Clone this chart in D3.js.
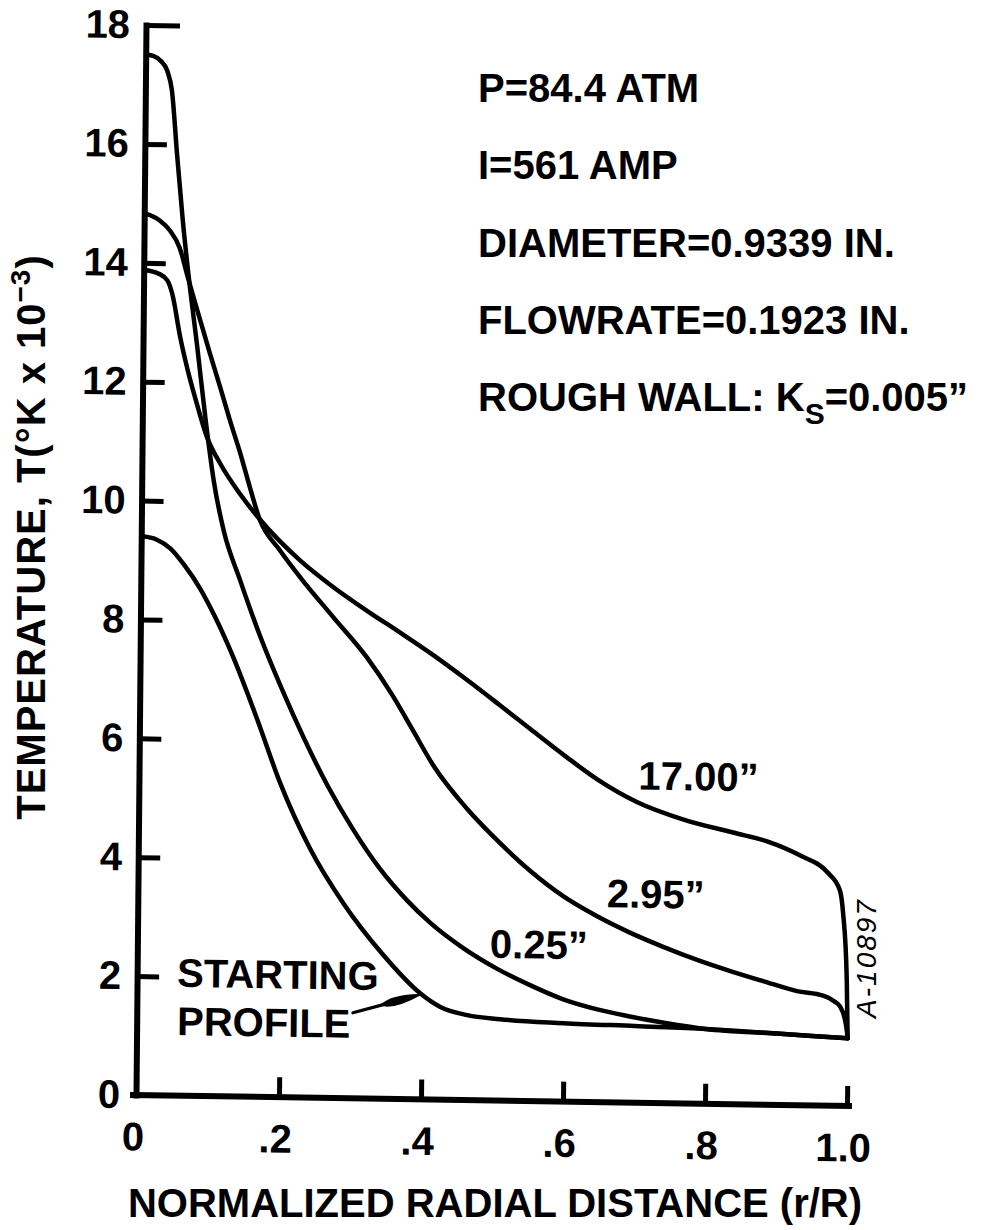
<!DOCTYPE html>
<html><head><meta charset="utf-8">
<script src="https://cdn.jsdelivr.net/npm/d3@7"></script>
<style>
html,body{margin:0;padding:0;background:#fff;}
svg text{font-family:"Liberation Sans",Arial,Helvetica,sans-serif;font-weight:bold;fill:#000;font-size:40px;}
svg text.id-mark{font-weight:normal;font-style:italic;font-size:28px;letter-spacing:2px;}
</style></head><body>
<svg id="chart" width="1003" height="1230"></svg>
<script>
// Axis ticks
const radialTicks = [0, 0.2, 0.4, 0.6, 0.8, 1.0];
const radialTickLabels = ["0", ".2", ".4", ".6", ".8", "1.0"];
const tempTicks = [0, 2, 4, 6, 8, 10, 12, 14, 16, 18];
const tempTickLabels = ["0", "2", "4", "6", "8", "10", "12", "14", "16", "18"];

// Starting profile
const startR = [0, 0.02, 0.04, 0.06, 0.082, 0.105, 0.129, 0.164, 0.197, 0.24, 0.288, 0.345, 0.397, 0.426, 0.464, 0.51, 0.6, 0.7, 0.8, 0.9, 1.0];
const startT = [9.4, 9.35, 9.2, 8.92, 8.54, 8.03, 7.41, 6.36, 5.3, 4.2, 3.28, 2.42, 1.79, 1.56, 1.43, 1.37, 1.32, 1.29, 1.26, 1.2, 1.14];

// Profile at 0.25 in.
const r025 = [0, 0.01, 0.02, 0.029, 0.036, 0.044, 0.053, 0.061, 0.075, 0.088, 0.1, 0.115, 0.138, 0.167, 0.2, 0.229, 0.264, 0.301, 0.339, 0.378, 0.41, 0.457, 0.505, 0.552, 0.599, 0.647, 0.693, 0.743, 0.8, 0.9, 1.0];
const t025 = [17.5, 17.48, 17.4, 17.24, 16.9, 15.84, 14.72, 13.88, 12.6, 11.35, 10.35, 9.5, 8.7, 7.76, 6.83, 6.08, 5.26, 4.52, 3.87, 3.34, 2.98, 2.56, 2.22, 1.95, 1.72, 1.56, 1.45, 1.35, 1.26, 1.2, 1.14];

// Profile at 2.95 in.
const r295 = [0, 0.02, 0.035, 0.049, 0.061, 0.079, 0.093, 0.108, 0.122, 0.137, 0.151, 0.165, 0.194, 0.223, 0.27, 0.318, 0.355, 0.384, 0.413, 0.461, 0.508, 0.551, 0.597, 0.645, 0.692, 0.739, 0.787, 0.834, 0.88, 0.928, 0.965, 0.979, 0.989, 0.995, 0.999, 1.0];
const t295 = [14.83, 14.72, 14.55, 14.26, 13.76, 13.04, 12.49, 11.92, 11.37, 10.82, 10.25, 9.72, 9.2, 8.75, 8.09, 7.42, 6.78, 6.2, 5.62, 4.9, 4.33, 3.87, 3.46, 3.13, 2.86, 2.63, 2.42, 2.24, 2.08, 1.92, 1.85, 1.77, 1.67, 1.5, 1.25, 1.14];

// Profile at 17.00 in.
const r1700 = [0, 0.02, 0.032, 0.039, 0.051, 0.062, 0.075, 0.09, 0.109, 0.137, 0.165, 0.223, 0.269, 0.318, 0.364, 0.411, 0.459, 0.506, 0.55, 0.6, 0.644, 0.7, 0.765, 0.836, 0.884, 0.931, 0.969, 0.987, 0.992, 0.998, 1.0];
const t1700 = [13.88, 13.82, 13.71, 13.49, 12.75, 12.2, 11.65, 11.08, 10.64, 10.14, 9.72, 9.03, 8.6, 8.2, 7.85, 7.48, 7.07, 6.65, 6.25, 5.8, 5.43, 5.06, 4.78, 4.57, 4.43, 4.2, 3.93, 3.63, 3.24, 2.12, 1.14];

const W = 1003, H = 1230;
const svg = d3.select("#chart");
svg.append("rect").attr("width", W).attr("height", H).attr("fill", "#fff");

const x = d3.scaleLinear().domain([0, 1]).range([137, 847]);
const y = d3.scaleLinear().domain([0, 18]).range([1095, 25]);

// the inked frame leans slightly: a small shear of the whole plot
const plot = svg.append("g").attr("transform", "matrix(1,0.01545,-0.00934,1,10.23,-2.09)");

// Y axis, ticks pointing inward
const yAxis = d3.axisLeft(y).tickValues(tempTicks)
  .tickFormat((d, i) => tempTickLabels[i])
  .tickSizeInner(-22).tickSizeOuter(0).tickPadding(16);
const gy = plot.append("g").attr("transform", `translate(${x(0) - 1},0)`).call(yAxis);
gy.attr("font-size", null).attr("font-family", null);
gy.select(".domain").attr("stroke", "#000").attr("stroke-width", 6).attr("stroke-linecap", "square");
gy.selectAll(".tick line").attr("stroke", "#000").attr("stroke-width", 5);
gy.selectAll(".tick").filter(d => d === 18).select("line").attr("x2", 34);
gy.selectAll(".tick").filter(d => d === 0).select("line").remove();
gy.selectAll(".tick text").attr("fill", "#000");

// X axis, ticks pointing inward
const xAxis = d3.axisBottom(x).tickValues(radialTicks)
  .tickFormat((d, i) => radialTickLabels[i])
  .tickSizeInner(-20).tickSizeOuter(0).tickPadding(27);
const gx = plot.append("g").attr("transform", `translate(0,${y(0)})`).call(xAxis);
gx.attr("font-size", null).attr("font-family", null);
gx.select(".domain").attr("d", `M${x(0) - 4},0H${x(1) + 2}`)
  .attr("stroke", "#000").attr("stroke-width", 6).attr("stroke-linecap", "square");
gx.selectAll(".tick line").attr("stroke", "#000").attr("stroke-width", 5);
gx.selectAll(".tick").filter(d => d === 0).select("line").remove();
gx.selectAll(".tick text").attr("fill", "#000").attr("dx", -4);

// Temperature profiles
const series = [
  {r: startR, t: startT},
  {r: r025, t: t025},
  {r: r295, t: t295},
  {r: r1700, t: t1700}
];
const line = d3.line().x(d => x(d[0])).y(d => y(d[1])).curve(d3.curveMonotoneX);
plot.selectAll("path.profile").data(series).join("path")
  .attr("class", "profile")
  .attr("d", s => line(d3.zip(s.r, s.t)))
  .attr("fill", "none").attr("stroke", "#000")
  .attr("stroke-width", 4.5).attr("stroke-linejoin", "round").attr("stroke-linecap", "round");

// Curve labels
const curveLabels = [
  {text: "17.00\u201D", r: 0.702, t: 5.27},
  {text: "2.95\u201D", r: 0.659, t: 3.28},
  {text: "0.25\u201D", r: 0.495, t: 2.40},
  {text: "STARTING", r: 0.055, t: 1.83},
  {text: "PROFILE", r: 0.0555, t: 1.02}
];
plot.selectAll("text.clabel").data(curveLabels).join("text")
  .attr("class", "clabel")
  .attr("x", d => x(d.r)).attr("y", d => y(d.t))
  .text(d => d.text);

// Arrow from the label to the starting profile
const arrowTail = {r: 0.303, t: 1.44}, arrowTip = {r: 0.397, t: 1.76};
const tx = x(arrowTail.r), ty = y(arrowTail.t), hx = x(arrowTip.r), hy = y(arrowTip.t);
const len = Math.hypot(hx - tx, hy - ty), ux = (hx - tx) / len, uy = (hy - ty) / len;
const headLen = 40, headW = 5;
const bx = hx - ux * headLen, by = hy - uy * headLen;
plot.append("line").attr("x1", tx).attr("y1", ty).attr("x2", bx + ux * 5).attr("y2", by + uy * 5)
  .attr("stroke", "#000").attr("stroke-width", 3.2).attr("stroke-linecap", "round");
plot.append("path")
  .attr("d", `M${bx},${by} Q${bx + ux * 12 - uy * headW * 1.4},${by + uy * 12 + ux * headW * 1.4} ${hx},${hy} Q${bx + ux * 12 + uy * headW * 1.4},${by + uy * 12 - ux * headW * 1.4} ${bx},${by}Z`)
  .attr("fill", "#000").attr("stroke", "#000").attr("stroke-width", 1.5).attr("stroke-linejoin", "round");

// Axis titles
svg.append("text")
  .attr("x", 495).attr("y", 1217).attr("text-anchor", "middle")
  .text("NORMALIZED RADIAL DISTANCE (r/R)");

const yTitle = svg.append("text")
  .attr("transform", "translate(45,537) rotate(-90)")
  .attr("text-anchor", "middle").style("letter-spacing", "1px");
yTitle.append("tspan").text("TEMPERATURE, T(\u00B0K x 10");
yTitle.append("tspan").attr("dy", -15).style("font-size", "28px").text("\u22123");
yTitle.append("tspan").attr("dy", 15).text(")");

// Run conditions
const conditionLines = [
  [{t: "P=84.4 ATM"}],
  [{t: "I=561 AMP"}],
  [{t: "DIAMETER=0.9339 IN."}],
  [{t: "FLOWRATE=0.1923 IN."}],
  [{t: "ROUGH WALL: K"}, {t: "S", sub: true}, {t: "=0.005\u201D"}]
];
conditionLines.forEach((segs, i) => {
  const tEl = svg.append("text").attr("x", 478).attr("y", 102 + i * 77.3);
  segs.forEach(s => {
    const sp = tEl.append("tspan").text(s.t);
    if (s.sub) sp.attr("dy", 13).style("font-size", "30px");
    else if (tEl.selectAll("tspan").size() > 1) sp.attr("dy", -13);
  });
});

// Drawing number along the right edge
svg.append("text").attr("class", "id-mark")
  .attr("transform", "translate(876,958) rotate(-90)")
  .attr("text-anchor", "middle")
  .text("A-10897");
</script>
</body></html>
